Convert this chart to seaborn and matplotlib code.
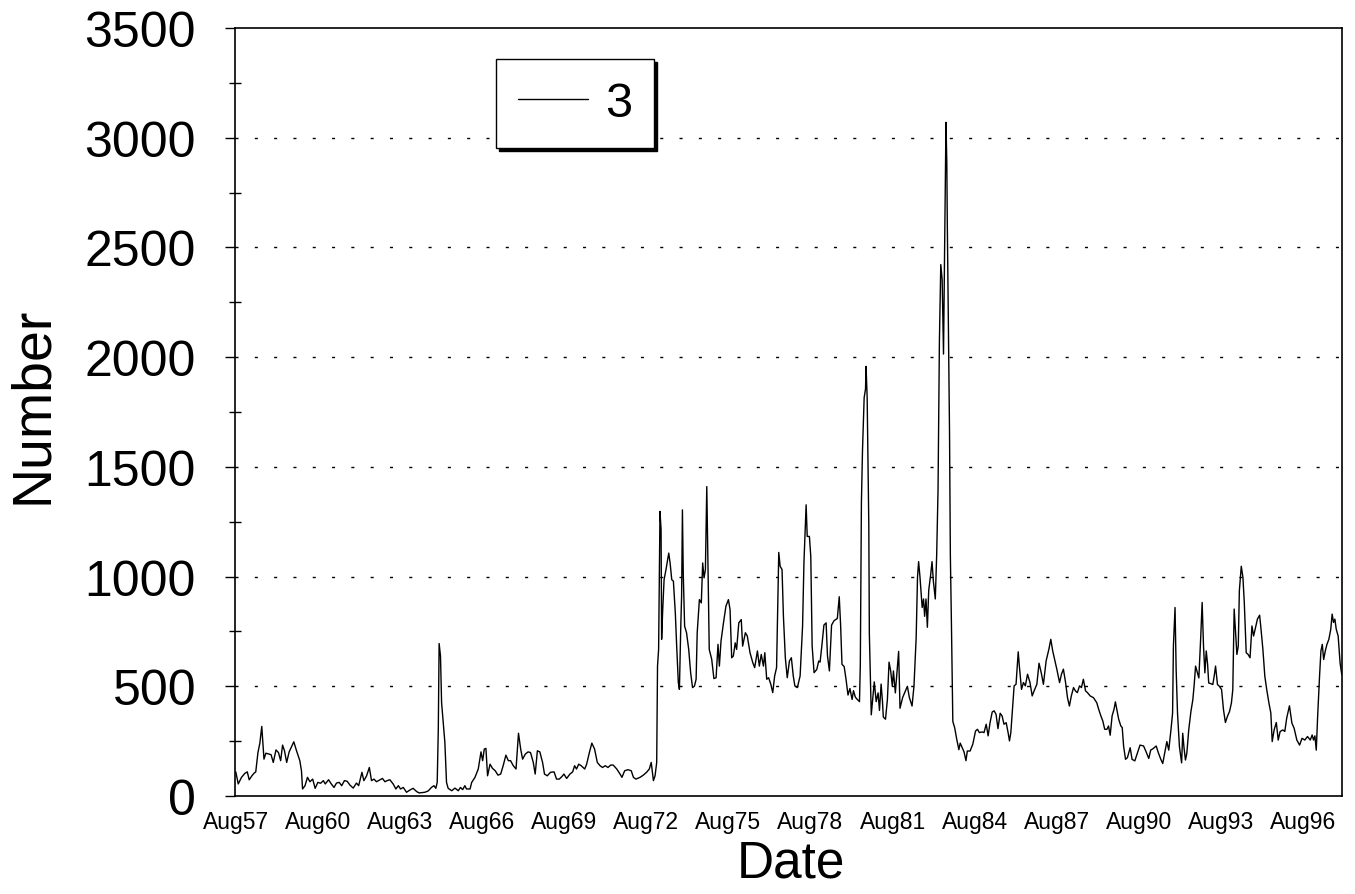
import matplotlib
matplotlib.use('Agg')
import matplotlib.pyplot as plt
import seaborn as sns
import numpy as np

# Set Seaborn style, then fonts (set_style resets font.family)
sns.set_style('ticks')
plt.rcParams['font.family'] = ['Liberation Sans', 'DejaVu Sans']
plt.rcParams['text.color'] = 'black'
plt.rcParams['axes.labelcolor'] = 'black'
plt.rcParams['xtick.color'] = 'black'
plt.rcParams['ytick.color'] = 'black'

# -----------------------------
# 1. Data (decimal year, number)
# -----------------------------
dates = [
    1957.58, 1957.67, 1957.79, 1957.91, 1958.00, 1958.07, 1958.17, 1958.24, 1958.31, 1958.39,
    1958.46, 1958.53, 1958.61, 1958.68, 1958.80, 1958.87, 1958.95, 1959.05, 1959.14, 1959.22,
    1959.29, 1959.36, 1959.44, 1959.53, 1959.70, 1959.80, 1959.92, 1959.98, 1960.02, 1960.11,
    1960.20, 1960.29, 1960.39, 1960.48, 1960.58, 1960.68, 1960.78, 1960.85, 1960.97, 1961.07,
    1961.17, 1961.26, 1961.36, 1961.45, 1961.55, 1961.65, 1961.75, 1961.87, 1961.99, 1962.07,
    1962.19, 1962.26, 1962.36, 1962.46, 1962.54, 1962.63, 1962.72, 1962.85, 1962.94, 1963.03,
    1963.11, 1963.21, 1963.33, 1963.43, 1963.52, 1963.60, 1963.70, 1963.82, 1963.94, 1964.06,
    1964.19, 1964.28, 1964.49, 1964.61, 1964.73, 1964.82, 1964.89, 1964.94, 1964.98, 1965.01,
    1965.06, 1965.10, 1965.16, 1965.22, 1965.28, 1965.34, 1965.47, 1965.59, 1965.71, 1965.79,
    1965.87, 1965.95, 1966.01, 1966.14, 1966.20, 1966.32, 1966.44, 1966.54, 1966.60, 1966.66,
    1966.72, 1966.78, 1966.87, 1966.96, 1967.06, 1967.16, 1967.26, 1967.35, 1967.45, 1967.54,
    1967.62, 1967.72, 1967.82, 1967.91, 1967.99, 1968.06, 1968.16, 1968.26, 1968.35, 1968.45,
    1968.52, 1968.60, 1968.69, 1968.79, 1968.86, 1968.96, 1969.08, 1969.21, 1969.30, 1969.40,
    1969.50, 1969.57, 1969.67, 1969.79, 1969.89, 1969.96, 1970.03, 1970.11, 1970.20, 1970.33,
    1970.40, 1970.50, 1970.59, 1970.69, 1970.79, 1970.89, 1970.98, 1971.08, 1971.18, 1971.28,
    1971.37, 1971.50, 1971.62, 1971.69, 1971.79, 1971.91, 1972.03, 1972.11, 1972.20, 1972.35,
    1972.47, 1972.59, 1972.69, 1972.76, 1972.84, 1972.90, 1972.96, 1972.99, 1973.03, 1973.08,
    1973.12, 1973.14, 1973.18, 1973.23, 1973.30, 1973.40, 1973.45, 1973.51, 1973.57, 1973.64,
    1973.69, 1973.75, 1973.79, 1973.84, 1973.87, 1973.90, 1973.93, 1973.98, 1974.05, 1974.13,
    1974.20, 1974.27, 1974.34, 1974.40, 1974.44, 1974.52, 1974.59, 1974.64, 1974.69, 1974.74,
    1974.79, 1974.83, 1974.88, 1974.97, 1975.05, 1975.13, 1975.20, 1975.25, 1975.31, 1975.40,
    1975.49, 1975.58, 1975.64, 1975.70, 1975.76, 1975.83, 1975.88, 1975.96, 1976.05, 1976.10,
    1976.20, 1976.27, 1976.37, 1976.47, 1976.54, 1976.64, 1976.71, 1976.78, 1976.86, 1976.91,
    1976.98, 1977.05, 1977.13, 1977.20, 1977.27, 1977.34, 1977.42, 1977.47, 1977.54, 1977.59,
    1977.66, 1977.73, 1977.81, 1977.88, 1977.95, 1978.01, 1978.10, 1978.20, 1978.29, 1978.34,
    1978.42, 1978.46, 1978.54, 1978.59, 1978.64, 1978.71, 1978.81, 1978.88, 1978.93, 1978.99,
    1979.07, 1979.15, 1979.20, 1979.27, 1979.35, 1979.44, 1979.56, 1979.63, 1979.68, 1979.73,
    1979.81, 1979.88, 1979.95, 1980.02, 1980.10, 1980.15, 1980.22, 1980.29, 1980.37, 1980.40,
    1980.44, 1980.48, 1980.54, 1980.59, 1980.61, 1980.65, 1980.68, 1980.71, 1980.73, 1980.77,
    1980.80, 1980.85, 1980.91, 1980.98, 1981.05, 1981.10, 1981.16, 1981.21, 1981.24, 1981.32,
    1981.39, 1981.45, 1981.51, 1981.57, 1981.61, 1981.68, 1981.75, 1981.80, 1981.85, 1981.95,
    1982.05, 1982.12, 1982.19, 1982.29, 1982.36, 1982.44, 1982.49, 1982.53, 1982.58, 1982.66,
    1982.71, 1982.75, 1982.80, 1982.85, 1982.90, 1982.97, 1983.02, 1983.07, 1983.14, 1983.19,
    1983.24, 1983.29, 1983.34, 1983.39, 1983.44, 1983.46, 1983.48, 1983.51, 1983.53, 1983.56,
    1983.58, 1983.61, 1983.63, 1983.66, 1983.69, 1983.73, 1983.78, 1983.85, 1983.92, 1984.00,
    1984.05, 1984.12, 1984.19, 1984.26, 1984.31, 1984.41, 1984.51, 1984.61, 1984.68, 1984.75,
    1984.85, 1984.92, 1985.00, 1985.07, 1985.14, 1985.22, 1985.29, 1985.36, 1985.43, 1985.51,
    1985.58, 1985.65, 1985.73, 1985.80, 1985.85, 1985.90, 1985.97, 1986.02, 1986.09, 1986.17,
    1986.21, 1986.29, 1986.36, 1986.43, 1986.51, 1986.60, 1986.68, 1986.75, 1986.85, 1986.93,
    1987.01, 1987.09, 1987.19, 1987.29, 1987.36, 1987.43, 1987.51, 1987.58, 1987.68, 1987.75,
    1987.82, 1987.90, 1987.97, 1988.04, 1988.11, 1988.19, 1988.26, 1988.33, 1988.41, 1988.48,
    1988.55, 1988.63, 1988.70, 1988.80, 1988.92, 1989.04, 1989.11, 1989.19, 1989.26, 1989.33,
    1989.41, 1989.47, 1989.53, 1989.60, 1989.67, 1989.72, 1989.77, 1989.84, 1989.92, 1989.97,
    1990.02, 1990.09, 1990.16, 1990.26, 1990.33, 1990.43, 1990.53, 1990.62, 1990.75, 1990.84,
    1990.94, 1991.01, 1991.11, 1991.21, 1991.29, 1991.38, 1991.45, 1991.53, 1991.60, 1991.67,
    1991.75, 1991.81, 1991.84, 1991.90, 1991.94, 1991.99, 1992.06, 1992.14, 1992.18, 1992.23,
    1992.28, 1992.33, 1992.40, 1992.48, 1992.55, 1992.60, 1992.65, 1992.70, 1992.77, 1992.84,
    1992.89, 1992.94, 1992.99, 1993.04, 1993.09, 1993.13, 1993.21, 1993.28, 1993.33, 1993.38,
    1993.45, 1993.52, 1993.60, 1993.67, 1993.74, 1993.82, 1993.89, 1993.96, 1994.01, 1994.06,
    1994.11, 1994.16, 1994.21, 1994.25, 1994.32, 1994.38, 1994.43, 1994.50, 1994.57, 1994.64,
    1994.71, 1994.77, 1994.84, 1994.91, 1994.99, 1995.03, 1995.11, 1995.18, 1995.25, 1995.33,
    1995.40, 1995.45, 1995.52, 1995.60, 1995.67, 1995.74, 1995.84, 1995.91, 1995.98, 1996.08,
    1996.17, 1996.25, 1996.35, 1996.45, 1996.54, 1996.64, 1996.74, 1996.84, 1996.91, 1996.96,
    1997.01, 1997.06, 1997.11, 1997.18, 1997.23, 1997.28, 1997.33, 1997.39, 1997.45, 1997.52,
    1997.59, 1997.64, 1997.69, 1997.74, 1997.79, 1997.86, 1997.93, 1997.99,
]

counts = [
    110, 55, 85, 103, 110, 74, 92, 103, 110, 198,
    241, 317, 168, 195, 191, 188, 153, 210, 198, 161,
    232, 206, 153, 201, 247, 206, 161, 115, 32, 47,
    85, 65, 77, 35, 62, 58, 70, 55, 74, 55,
    39, 59, 62, 47, 70, 67, 50, 36, 59, 47,
    108, 70, 92, 130, 70, 77, 65, 74, 80, 65,
    70, 74, 55, 32, 47, 32, 39, 17, 27, 35,
    20, 14, 17, 23, 39, 47, 35, 62, 305, 695,
    638, 426, 335, 244, 62, 35, 24, 36, 24, 39,
    29, 47, 32, 32, 62, 85, 123, 201, 161, 214,
    217, 92, 145, 126, 115, 95, 100, 138, 186, 161,
    161, 138, 123, 286, 214, 168, 191, 201, 198, 153,
    100, 206, 201, 153, 100, 92, 108, 110, 77, 77,
    89, 100, 80, 100, 110, 138, 123, 145, 138, 123,
    145, 198, 241, 214, 153, 138, 130, 138, 130, 141,
    141, 123, 100, 85, 115, 120, 115, 85, 77, 85,
    95, 108, 123, 153, 70, 92, 153, 592, 668, 1297,
    1214, 714, 850, 986, 1032, 1107, 1062, 986, 979, 835,
    683, 517, 486, 774, 910, 1304, 1017, 774, 744, 668,
    562, 494, 501, 532, 744, 895, 880, 1062, 994, 1032,
    1410, 1092, 668, 623, 535, 539, 691, 592, 706, 789,
    865, 895, 850, 630, 638, 698, 668, 789, 804, 683,
    744, 729, 653, 608, 585, 661, 592, 645, 592, 653,
    532, 539, 509, 471, 547, 585, 1110, 1047, 1032, 820,
    630, 539, 615, 630, 547, 501, 494, 547, 774, 1062,
    1327, 1183, 1183, 1092, 683, 562, 577, 615, 610, 679,
    779, 789, 639, 570, 779, 799, 809, 908, 779, 600,
    590, 530, 460, 490, 440, 480, 450, 440, 430, 600,
    1337, 1576, 1815, 1855, 1958, 1815, 1536, 1237, 739, 520,
    370, 440, 520, 430, 470, 390, 510, 430, 360, 350,
    440, 610, 570, 500, 570, 470, 580, 659, 400, 450,
    480, 500, 450, 410, 500, 719, 998, 1068, 998, 859,
    898, 819, 898, 769, 938, 1008, 1068, 978, 898, 1098,
    1396, 2074, 2422, 2353, 2014, 2233, 2492, 2851, 3070, 2890,
    2592, 2253, 1994, 1655, 1098, 779, 340, 310, 261, 211,
    241, 221, 201, 161, 205, 205, 236, 296, 304, 289,
    292, 289, 327, 274, 334, 383, 388, 372, 307, 377,
    365, 327, 334, 289, 251, 289, 410, 502, 509, 657,
    593, 486, 517, 502, 555, 517, 456, 479, 509, 605,
    562, 509, 616, 669, 714, 661, 616, 578, 517, 555,
    578, 517, 448, 410, 456, 494, 479, 471, 502, 494,
    532, 479, 471, 456, 448, 425, 395, 365, 342, 304,
    304, 319, 277, 365, 395, 429, 395, 350, 319, 312,
    228, 167, 175, 220, 167, 160, 198, 232, 228, 202,
    171, 209, 217, 228, 197, 167, 148, 202, 248, 209,
    301, 378, 683, 859, 576, 378, 225, 151, 286, 217,
    164, 194, 301, 385, 439, 508, 592, 569, 538, 729,
    882, 683, 561, 661, 599, 515, 512, 508, 546, 592,
    508, 500, 485, 393, 335, 365, 385, 424, 485, 852,
    745, 645, 683, 936, 1047, 997, 882, 653, 645, 630,
    775, 729, 768, 806, 824, 775, 668, 546, 485, 424,
    378, 248, 301, 335, 255, 294, 301, 294, 355, 411,
    332, 309, 255, 232, 263, 255, 271, 255, 278, 255,
    274, 209, 362, 546, 661, 691, 622, 661, 691, 714,
    760, 829, 791, 806, 760, 729, 607, 554,
]

tick_years = [1957.58 + 3 * i for i in range(14)]
tick_labels = ['Aug%02d' % (57 + 3 * i) for i in range(14)]
series_name = '3'

# -----------------------------
# 2. Plot
# -----------------------------
fig = plt.figure(figsize=(13.55, 8.95), dpi=100)
ax = fig.add_axes([0.1734, 0.1095, 0.8170, 0.8581])

sns.lineplot(x=dates, y=counts, estimator=None, sort=False,
             color='black', linewidth=1.0, label=series_name, ax=ax)

ax.set_xlim(1957.55, 1998.0)
ax.set_ylim(0, 3500)

ax.set_xticks(tick_years)
ax.set_xticklabels(tick_labels, fontsize=16.5)
ax.tick_params(axis='x', length=0, pad=10)

ax.set_yticks(np.arange(0, 3501, 500))
ax.set_yticks(np.arange(250, 3500, 500), minor=True)
ax.tick_params(axis='y', which='major', labelsize=36, direction='out',
               length=7, width=1, pad=21, color='black')
ax.tick_params(axis='y', which='minor', direction='inout', length=8,
               width=1, color='black')

# dotted horizontal grid at major ticks
for v in range(500, 3500, 500):
    ax.axhline(v, color='black', linewidth=1.0, linestyle=(0, (2.2, 11.7)), zorder=0)

for sp in ax.spines.values():
    sp.set_visible(True)
    sp.set_color('black')
    sp.set_linewidth(1.2)

ax.set_xlabel('Date', fontsize=37, color='black')
ax.xaxis.set_label_coords(0.502, -0.055)
ax.set_ylabel('Number', fontsize=40, color='black')
ax.yaxis.set_label_coords(-0.159, 0.51)

leg = ax.legend(loc='upper left', bbox_to_anchor=(0.2358, 0.9596),
                borderaxespad=0, fontsize=35, handlelength=1.45,
                handletextpad=0.35, borderpad=0.45, fancybox=False,
                edgecolor='black', framealpha=1,
                shadow={'color': 'black', 'alpha': 1})
leg.get_frame().set_linewidth(1.0)
for line in leg.get_lines():
    line.set_linewidth(1.0)
for t in leg.get_texts():
    t.set_color('black')

fig.savefig('out.png', dpi=100)
